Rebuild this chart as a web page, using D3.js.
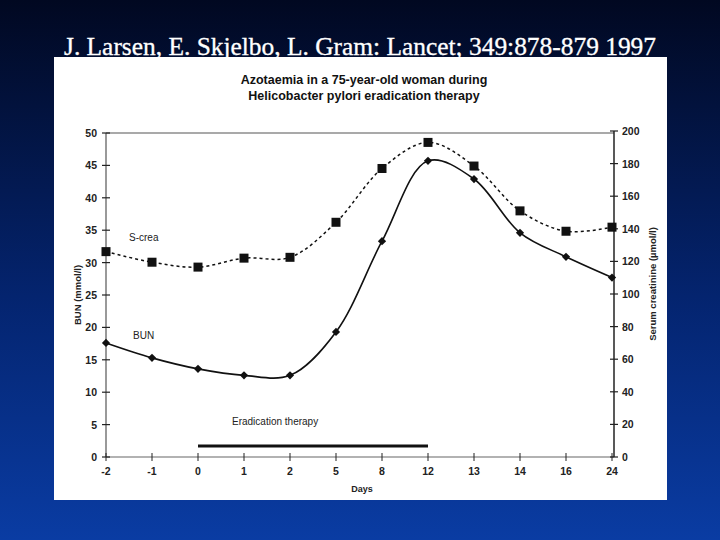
<!DOCTYPE html>
<html><head><meta charset="utf-8">
<script src="https://cdn.jsdelivr.net/npm/d3@7"></script>
<style>
html,body{margin:0;padding:0;background:#000;}
svg{display:block;}
.tk text{font-family:Arial,'Liberation Sans',sans-serif;font-size:10.5px;font-weight:bold;fill:#222;}
</style></head>
<body><div id="chart"></div>
<script>
// days (categorical, evenly spaced on the original figure)
const days = ['-2','-1','0','1','2','5','8','12','13','14','16','24'];
// blood urea nitrogen, mmol/l (left axis)
const bun = [17.6, 15.3, 13.6, 12.6, 12.6, 19.3, 33.3, 45.7, 42.9, 34.6, 30.9, 27.7];
// serum creatinine, umol/l (right axis)
const screa = [126, 119.5, 116.5, 122, 122.5, 144, 177, 193, 178.5, 151, 138.5, 141];
const leftTicks = [0,5,10,15,20,25,30,35,40,45,50];
const rightTicks = [0,20,40,60,80,100,120,140,160,180,200];
const therapy = ['0','12'];

const W=720,H=540;
const svg=d3.select('#chart').append('svg').attr('width',W).attr('height',H);
const defs=svg.append('defs');
const gr=defs.append('linearGradient').attr('id','bg').attr('x1',0).attr('x2',0).attr('y1',0).attr('y2',1);
gr.append('stop').attr('offset','0%').attr('stop-color','#010821');
gr.append('stop').attr('offset','55%').attr('stop-color','#04246f');
gr.append('stop').attr('offset','100%').attr('stop-color','#0a3ca3');
svg.append('rect').attr('width',W).attr('height',H).attr('fill','url(#bg)');

svg.append('text').attr('x',360).attr('y',55).attr('text-anchor','middle')
  .style('font-family',"'Liberation Serif','Times New Roman',serif").style('font-size','24.5px')
  .attr('fill','#fff').attr('stroke','#fff').attr('stroke-width',0.3)
  .attr('textLength',592).attr('lengthAdjust','spacingAndGlyphs')
  .text('J. Larsen, E. Skjelbo, L. Gram: Lancet; 349:878-879 1997');

// white figure panel
svg.append('rect').attr('x',54).attr('y',57).attr('width',613).attr('height',443).attr('fill','#fff');

const ff="Arial,'Liberation Sans',sans-serif";
svg.append('text').attr('x',364).attr('y',84).attr('text-anchor','middle')
  .style('font-family',ff).style('font-size','12.5px').style('font-weight','bold').attr('fill','#111')
  .text('Azotaemia in a 75-year-old woman during');
svg.append('text').attr('x',364).attr('y',100).attr('text-anchor','middle')
  .style('font-family',ff).style('font-size','12.5px').style('font-weight','bold').attr('fill','#111')
  .text('Helicobacter pylori eradication therapy');

const x=d3.scalePoint().domain(days).range([106,612]);
const yL=d3.scaleLinear().domain([0,50]).range([457,133]);
const yR=d3.scaleLinear().domain([0,200]).range([457,131]);
const xL=106, xR=614;

// frame lines
svg.append('line').attr('x1',xL).attr('x2',xR).attr('y1',yL(50)).attr('y2',yL(50)).attr('stroke','#555').attr('stroke-width',1.2);
svg.append('line').attr('x1',xL).attr('x2',xR).attr('y1',yL(0)).attr('y2',yL(0)).attr('stroke','#666').attr('stroke-width',1.2);
svg.append('line').attr('x1',xL).attr('x2',xL).attr('y1',yL(0)).attr('y2',yL(50)).attr('stroke','#555').attr('stroke-width',1.2);
svg.append('line').attr('x1',xR).attr('x2',xR).attr('y1',yL(0)).attr('y2',yR(200)).attr('stroke','#222').attr('stroke-width',1.5);

// left ticks
const gl=svg.append('g').attr('class','tk');
gl.selectAll('line').data(leftTicks).join('line')
  .attr('x1',xL-4).attr('x2',xL+4).attr('y1',d=>yL(d)).attr('y2',d=>yL(d)).attr('stroke','#222').attr('stroke-width',1.2);
gl.selectAll('text').data(leftTicks).join('text')
  .attr('x',xL-9).attr('y',d=>yL(d)+4).attr('text-anchor','end').text(d=>d);
// right ticks
const grt=svg.append('g').attr('class','tk');
grt.selectAll('line').data(rightTicks).join('line')
  .attr('x1',xR-4).attr('x2',xR+4).attr('y1',d=>yR(d)).attr('y2',d=>yR(d)).attr('stroke','#222').attr('stroke-width',1.2);
grt.selectAll('text').data(rightTicks).join('text')
  .attr('x',xR+8).attr('y',d=>yR(d)+4).attr('text-anchor','start').text(d=>d);
// x ticks
const gx=svg.append('g').attr('class','tk');
gx.selectAll('line').data(days).join('line')
  .attr('x1',d=>x(d)).attr('x2',d=>x(d)).attr('y1',yL(0)-4).attr('y2',yL(0)+4).attr('stroke','#222').attr('stroke-width',1);
gx.selectAll('text').data(days).join('text')
  .attr('x',d=>x(d)).attr('y',yL(0)+18).attr('text-anchor','middle').text(d=>d);

svg.append('text').attr('x',362).attr('y',492).attr('text-anchor','middle')
  .style('font-family',ff).style('font-size','9px').style('font-weight','bold').attr('fill','#222').text('Days');
svg.append('text').attr('transform',`translate(81,${yL(25)}) rotate(-90)`).attr('text-anchor','middle')
  .style('font-family',ff).style('font-size','9.5px').style('font-weight','bold').attr('fill','#222').text('BUN (mmol/l)');
svg.append('text').attr('transform',`translate(656,${yR(100)-10}) rotate(-90)`).attr('text-anchor','middle')
  .style('font-family',ff).style('font-size','9.5px').style('font-weight','bold').attr('fill','#222').text('Serum creatinine (µmol/l)');

// series
const lineL=d3.line().x((d,i)=>x(days[i])).y(d=>yL(d)).curve(d3.curveCatmullRom.alpha(0.5));
const lineR=d3.line().x((d,i)=>x(days[i])).y(d=>yR(d)).curve(d3.curveCatmullRom.alpha(0.5));
svg.append('path').attr('d',lineR(screa)).attr('fill','none').attr('stroke','#111').attr('stroke-width',1.5).attr('stroke-dasharray','3 3');
svg.append('path').attr('d',lineL(bun)).attr('fill','none').attr('stroke','#111').attr('stroke-width',1.6);

svg.append('g').selectAll('rect').data(screa).join('rect')
  .attr('x',(d,i)=>x(days[i])-4.5).attr('y',d=>yR(d)-4.5).attr('width',9).attr('height',9).attr('fill','#111');
const dia=d3.symbol().type(d3.symbolSquare).size(34);
svg.append('g').selectAll('path').data(bun).join('path')
  .attr('transform',(d,i)=>`translate(${x(days[i])},${yL(d)}) rotate(45)`).attr('d',dia()).attr('fill','#111');

// therapy bar
svg.append('line').attr('x1',x(therapy[0])).attr('x2',x(therapy[1])).attr('y1',446).attr('y2',446)
  .attr('stroke','#111').attr('stroke-width',3);

const lab=(t,xx,yy)=>svg.append('text').attr('x',xx).attr('y',yy)
  .style('font-family',ff).style('font-size','10px').attr('fill','#222').text(t);
lab('S-crea',129,241); lab('BUN',133,339); lab('Eradication therapy',232,425);
</script></body></html>
